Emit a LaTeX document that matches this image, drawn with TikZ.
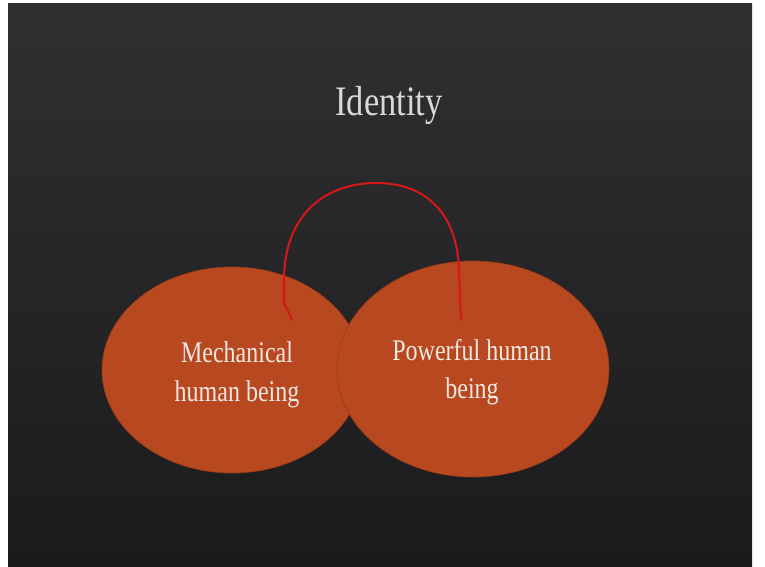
\documentclass[tikz,border=0pt]{standalone}
\usepackage{fontspec}
\setmainfont{Liberation Serif}
\usetikzlibrary{shapes.geometric}
\definecolor{bgtop}{HTML}{303032}
\definecolor{bgbot}{HTML}{1B1B1D}
\definecolor{blob}{HTML}{B8481F}
\definecolor{blobedge}{HTML}{9A3A16}
\definecolor{arcred}{HTML}{D81818}
\definecolor{txt}{HTML}{F0E8E2}
\definecolor{ttl}{HTML}{D8D8D8}
\tikzset{
  blobstyle/.style={ellipse, fill=blob, draw=blobedge, line width=0.6pt, inner sep=0pt},
  label/.style={text=txt, inner sep=0pt, align=center},
  linkline/.style={draw=arcred, line width=2pt, line cap=round, line join=round}
}
\begin{document}
\begin{tikzpicture}[x=1pt,y=-1pt]
\fill[white] (0,0) rectangle (765,567);
\useasboundingbox (0,0) rectangle (765,567);
\shade[top color=bgtop, bottom color=bgbot] (8,4) rectangle (752,567);
\node[label, text=ttl, anchor=base] (title) at (389,116)
  {\scalebox{0.82}[1]{\fontsize{42}{50}\selectfont Identity}};
\node[blobstyle, minimum width=260pt, minimum height=206pt] (mech) at (232,370) {};
\node[blobstyle, minimum width=272pt, minimum height=216pt] (pow) at (473,369) {};
\node[label] (mechtext) at (237,374)
  {\scalebox{0.8}[1]{\fontsize{30}{39.5}\selectfont\begin{tabular}{@{}c@{}}Mechanical\\human being\end{tabular}}};
\node[label] (powtext) at (472,371.5)
  {\scalebox{0.8}[1]{\fontsize{30}{38}\selectfont\begin{tabular}{@{}c@{}}Powerful human\\being\end{tabular}}};
\coordinate (linkA) at (292,320);
\coordinate (linkB) at (461,320);
\draw[linkline] (linkA) -- (284,303) -- (284,280)
  .. controls (284,215) and (325,183) .. (376,183)
  .. controls (425,183) and (457,212) .. (459,270) -- (linkB);
\end{tikzpicture}
\end{document}
